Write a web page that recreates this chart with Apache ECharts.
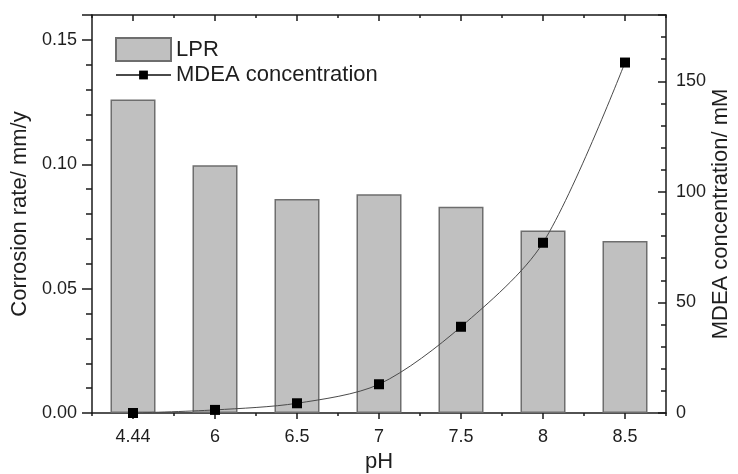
<!DOCTYPE html>
<html>
<head>
<meta charset="utf-8">
<script src="https://cdn.jsdelivr.net/npm/echarts@6/dist/echarts.min.js"></script>
<style>
html,body{margin:0;padding:0;background:#fff;}
#chart{width:738px;height:474px;}
</style>
</head>
<body>
<div id="chart"></div>
<script>
var categories = ['4.44', '6', '6.5', '7', '7.5', '8', '8.5'];
var lprValues = [0.126, 0.0996, 0.0860, 0.0879, 0.0829, 0.0734, 0.0691];
var mdeaValues = [0, 1.4, 4.4, 13, 39, 77, 158.5];
var leftTicks = { min: 0, max: 0.16, interval: 0.05 };
var rightTicks = { min: 0, max: 180, interval: 50 };

var FONT = '"Liberation Sans", Arial, sans-serif';
var TXT = '#1e1e1e';
var AX = '#1a1a1a';

var chart = echarts.init(document.getElementById('chart'), null, { renderer: 'canvas' });

function hiddenX(pos, inside, len) {
  return {
    type: 'category', data: categories, position: pos, boundaryGap: true,
    axisLine: { show: false },
    axisTick: { show: true, alignWithLabel: false, inside: inside, length: len, interval: 0,
      lineStyle: { color: AX, width: 1.5 } },
    axisLabel: { show: false, interval: 0 },
    splitLine: { show: false }
  };
}

chart.setOption({
  animation: false,
  backgroundColor: '#ffffff',
  textStyle: { fontFamily: FONT },
  grid: { left: 92, right: 72, top: 15, bottom: 61, containLabel: false, outerBoundsMode: 'none' },
  legend: [
    {
      data: [{ name: 'LPR', icon: 'rect' }], orient: 'vertical', left: 110, top: 32,
      itemWidth: 55, itemHeight: 23,
      textStyle: { fontSize: 22, color: TXT, fontFamily: FONT }
    },
    {
      data: ['MDEA concentration'], orient: 'vertical', left: 110, top: 59,
      itemWidth: 55, itemHeight: 11,
      textStyle: { fontSize: 22, color: TXT, fontFamily: FONT }
    }
  ],
  xAxis: [
    {
      type: 'category', data: categories, position: 'bottom', boundaryGap: true,
      name: 'pH', nameLocation: 'middle', nameGap: 38,
      nameTextStyle: { fontSize: 22, color: TXT, fontFamily: FONT },
      axisLine: { show: true, lineStyle: { color: AX, width: 1.5 } },
      axisTick: { show: true, alignWithLabel: true, length: 6, interval: 0,
        lineStyle: { color: AX, width: 1.5 } },
      axisLabel: { show: true, interval: 0, fontSize: 18, color: TXT, margin: 15, fontFamily: FONT },
      splitLine: { show: false }
    },
    hiddenX('bottom', false, 3),
    {
      type: 'category', data: categories, position: 'top', boundaryGap: true,
      axisLine: { show: true, lineStyle: { color: AX, width: 1.5 } },
      axisTick: { show: true, alignWithLabel: true, inside: true, length: 6, interval: 0,
        lineStyle: { color: AX, width: 1.5 } },
      axisLabel: { show: false, interval: 0 },
      splitLine: { show: false }
    },
    hiddenX('top', true, 3)
  ],
  yAxis: [
    {
      type: 'value', position: 'left',
      min: leftTicks.min, max: leftTicks.max, interval: leftTicks.interval,
      name: 'Corrosion rate/ mm/y', nameLocation: 'middle', nameGap: 58, nameRotate: 90,
      nameTextStyle: { fontSize: 22, color: TXT, fontFamily: FONT },
      axisLine: { show: true, lineStyle: { color: AX, width: 1.5 } },
      axisTick: { show: true, length: 10, lineStyle: { color: AX, width: 1.5 } },
      minorTick: { show: true, splitNumber: 5, length: 6, lineStyle: { color: AX, width: 1.5 } },
      axisLabel: { fontSize: 18, color: TXT, margin: 15, fontFamily: FONT, showMaxLabel: false,
        formatter: function (v) { return v.toFixed(2); } },
      splitLine: { show: false }
    },
    {
      type: 'value', position: 'right',
      min: rightTicks.min, max: rightTicks.max, interval: rightTicks.interval,
      name: 'MDEA concentration/ mM', nameLocation: 'middle', nameGap: 44, nameRotate: 90,
      nameMoveOverlap: false,
      nameTextStyle: { fontSize: 22, color: TXT, fontFamily: FONT },
      axisLine: { show: true, lineStyle: { color: AX, width: 1.5 } },
      axisTick: { show: true, inside: true, length: 8, lineStyle: { color: AX, width: 1.5 } },
      minorTick: { show: true, splitNumber: 5, length: 5, lineStyle: { color: AX, width: 1.5 } },
      axisLabel: { fontSize: 18, color: TXT, margin: 10, fontFamily: FONT, showMaxLabel: false },
      splitLine: { show: false }
    }
  ],
  series: [
    {
      name: 'LPR', type: 'bar', xAxisIndex: 0, yAxisIndex: 0,
      data: lprValues, barWidth: 45,
      itemStyle: { color: '#c0c0c0', borderColor: '#6e6e6e', borderWidth: 1.5 },
      z: 2
    },
    {
      name: 'MDEA concentration', type: 'line', xAxisIndex: 0, yAxisIndex: 1,
      data: mdeaValues, smooth: 0.3,
      symbol: 'rect', symbolSize: 10, showAllSymbol: true,
      itemStyle: { color: '#000000' },
      lineStyle: { color: '#4a4a4a', width: 1 },
      z: 5
    }
  ]
});
</script>
</body>
</html>
